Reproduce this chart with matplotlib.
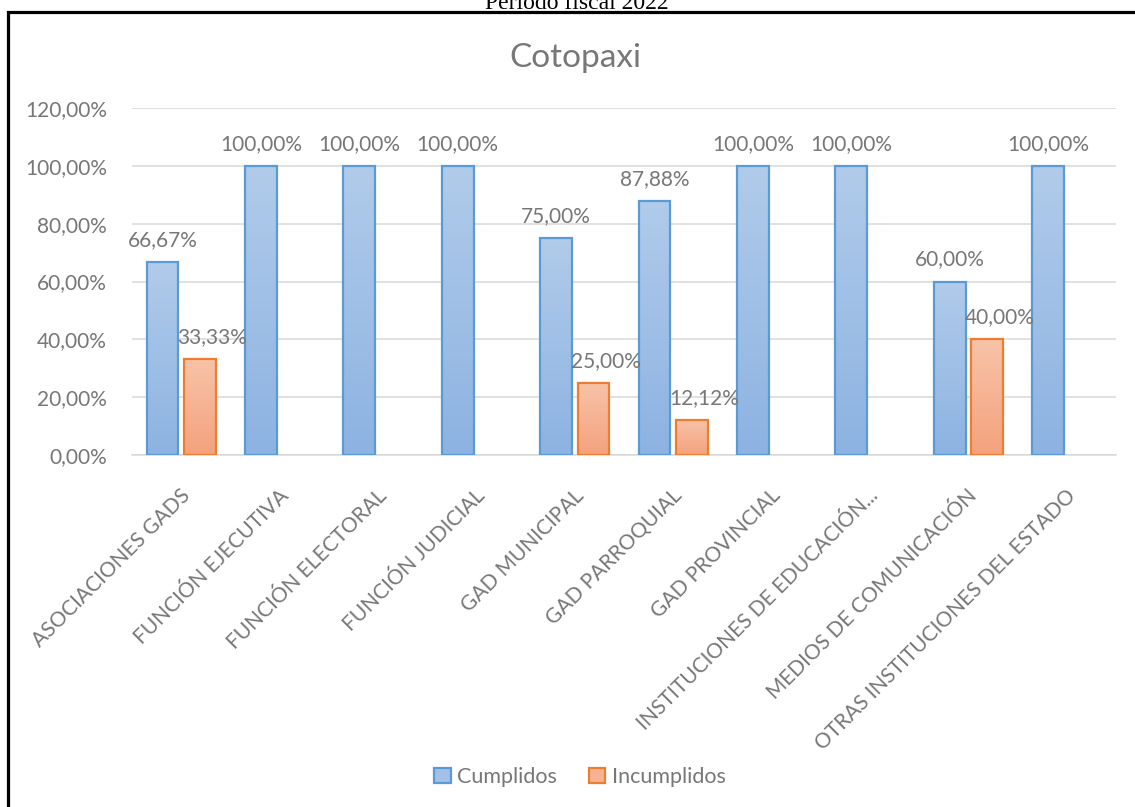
import numpy as np
import matplotlib
matplotlib.use('Agg')
import matplotlib.pyplot as plt
from matplotlib.patches import Patch, Rectangle
from matplotlib.colors import LinearSegmentedColormap

# datos
categorias = ['ASOCIACIONES GADS', 'FUNCIÓN EJECUTIVA', 'FUNCIÓN ELECTORAL',
              'FUNCIÓN JUDICIAL', 'GAD MUNICIPAL', 'GAD PARROQUIAL',
              'GAD PROVINCIAL', 'INSTITUCIONES DE EDUCACIÓN...',
              'MEDIOS DE COMUNICACIÓN', 'OTRAS INSTITUCIONES DEL ESTADO']
cumplidos = [66.67, 100.00, 100.00, 100.00, 75.00, 87.88, 100.00, 100.00, 60.00, 100.00]
incumplidos = [33.33, None, None, None, 25.00, 12.12, None, None, 40.00, None]
yticks = [0, 20, 40, 60, 80, 100, 120]

GRIS = '#777777'
plt.rcParams['font.family'] = ['Lato', 'DejaVu Sans']

W, H = 1135, 807
fig = plt.figure(figsize=(W / 100, H / 100), dpi=100)
ax = fig.add_axes([132 / W, 1 - 455 / H, (1116 - 132) / W, (455 - 108) / H])

azul = LinearSegmentedColormap.from_list('azul', ['#8DB3E2', '#B1CBEA'])
naranja = LinearSegmentedColormap.from_list('naranja', ['#F4A27D', '#F8C3A8'])
grad = np.linspace(0, 1, 100).reshape(-1, 1)

x = np.arange(len(categorias))
ancho = 0.325
sep = 0.19


def barras(valores, offset, cmap, borde, dx_label):
    for xi, v in zip(x, valores):
        if v is None:
            continue
        x0 = xi + offset - ancho / 2
        rect = Rectangle((x0, 0), ancho, v, facecolor='none', edgecolor=borde,
                         linewidth=1.6, zorder=4)
        ax.add_patch(rect)
        im = ax.imshow(grad, cmap=cmap, origin='lower', aspect='auto',
                       extent=[x0, x0 + ancho, 0, v], zorder=3)
        im.set_clip_path(rect)
        ax.annotate(f'{v:.2f}%'.replace('.', ','), xy=(xi + offset, v),
                    xytext=(dx_label, 11.5), textcoords='offset points',
                    ha='center', va='baseline', fontsize=15, color=GRIS, zorder=5)


barras(cumplidos, -sep, azul, '#5B9BD5', 0)
barras(incumplidos, sep, naranja, '#ED7D31', 9)

ax.set_xlim(-0.5, len(categorias) - 0.5)
ax.set_ylim(0, 120)
ax.set_yticks(yticks)
ax.set_yticklabels([f'{t:.2f}%'.replace('.', ',') for t in yticks], fontsize=15, color=GRIS)
ax.set_xticks(x)
ax.set_xticklabels([])
ax.tick_params(length=0, pad=18)
ax.grid(axis='y', color='#D9D9D9', linewidth=1.1, zorder=0)
ax.set_axisbelow(True)
for s in ['top', 'right', 'left']:
    ax.spines[s].set_visible(False)
ax.spines['bottom'].set_color('#D9D9D9')
ax.spines['bottom'].set_linewidth(1.1)

for xi, cat in zip(x, categorias):
    ax.annotate(cat, xy=(xi, 0), xycoords=('data', 'axes fraction'),
                xytext=(4, -27), textcoords='offset points', rotation=45,
                rotation_mode='anchor', ha='right', va='center',
                fontsize=15, color=GRIS)

fig.text(575 / W, 1 - 67 / H, 'Cotopaxi', ha='center', va='baseline',
         fontsize=24, color=GRIS)
fig.text(577 / W, 1 - 9 / H, 'Período fiscal 2022', ha='center', va='baseline',
         fontsize=17, family='Liberation Serif', color='black')

# marco negro
fig.patches.append(Rectangle((8 / W, -0.1), 1.2, 1 - 11.5 / H + 0.1,
                             transform=fig.transFigure, fill=False,
                             edgecolor='black', linewidth=2.3))

handles = [Patch(facecolor='#A3C0E6', edgecolor='#5B9BD5', linewidth=1.6, label='Cumplidos'),
           Patch(facecolor='#F6B393', edgecolor='#ED7D31', linewidth=1.6, label='Incumplidos')]
fig.legend(handles=handles, loc='center', bbox_to_anchor=(580 / W, 1 - 777 / H),
           ncol=2, frameon=False, fontsize=15.5, labelcolor=GRIS,
           handlelength=0.75, handleheight=0.75, handletextpad=0.3, columnspacing=1.5)

fig.savefig('out.png', dpi=100)
